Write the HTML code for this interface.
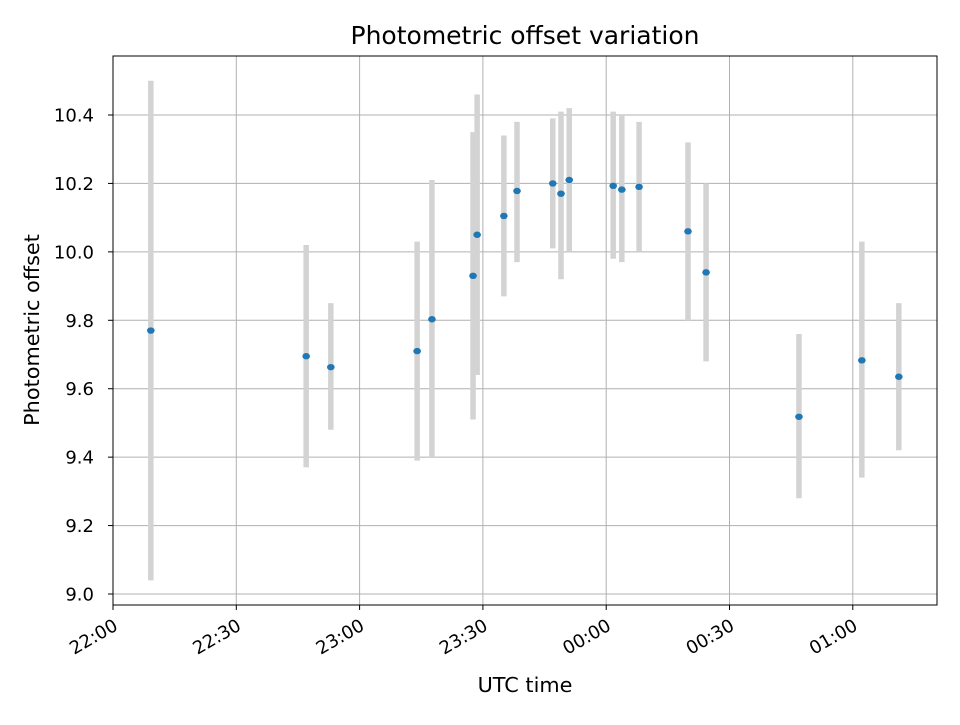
<!DOCTYPE html>
<html><head><meta charset="utf-8"><style>
body{margin:0;background:#fff;font-family:"Liberation Sans","DejaVu Sans",sans-serif;}
svg text{font-family:"DejaVu Sans","Liberation Sans",sans-serif;fill:#000;}
</style></head><body>
<svg id="chart" width="960" height="720" xmlns="http://www.w3.org/2000/svg">
<rect width="960" height="720" fill="#fff"/>
<g id="grid"></g><g id="bars"></g><g id="pts"></g>
<rect x="113" y="56" width="824" height="549" fill="none" stroke="#000" stroke-width="1"/>
<g id="axes"></g>
<text x="525" y="44" font-size="25" text-anchor="middle">Photometric offset variation</text>
<text x="525" y="692" font-size="20.8" text-anchor="middle">UTC time</text>
<text transform="translate(39,330) rotate(-90)" font-size="20.8" text-anchor="middle">Photometric offset</text>
</svg>
<script>
// minutes since 22:00
const times=[9.2,47,53,74,77.6,87.6,88.6,95.1,98.3,107,109,111,121.7,123.8,128,139.9,144.3,166.9,182.2,191.2];
const values=[9.77,9.695,9.663,9.71,9.803,9.93,10.05,10.105,10.178,10.2,10.17,10.21,10.193,10.182,10.19,10.06,9.94,9.518,9.683,9.635];
const lows=[9.04,9.37,9.48,9.39,9.40,9.51,9.64,9.87,9.97,10.01,9.92,10.00,9.98,9.97,10.00,9.80,9.68,9.28,9.34,9.42];
const highs=[10.50,10.02,9.85,10.03,10.21,10.35,10.46,10.34,10.38,10.39,10.41,10.42,10.41,10.40,10.38,10.32,10.20,9.76,10.03,9.85];
const xTicks=[0,30,60,90,120,150,180];
const xTickLabels=["22:00","22:30","23:00","23:30","00:00","00:30","01:00"];
const yTicks=[9.0,9.2,9.4,9.6,9.8,10.0,10.2,10.4];
const yTickLabels=["9.0","9.2","9.4","9.6","9.8","10.0","10.2","10.4"];

const NS="http://www.w3.org/2000/svg";
function xs(m){return 113+m*(123.3/30);}
function ys(v){return 594-(v-9.0)*(479/1.4);}
function mk(tag,attrs,parent){const e=document.createElementNS(NS,tag);for(const k in attrs)e.setAttribute(k,attrs[k]);document.getElementById(parent).appendChild(e);return e;}
xTicks.forEach((t,i)=>{
  const x=xs(t);
  const g=mk('line',{x1:x,x2:x,y1:56,y2:605,stroke:'#b0b0b0','stroke-width':1},'grid');
  
  
  const tk=mk('line',{x1:x,x2:x,y1:605,y2:610,stroke:'#000'},'axes');
  
  
  const tx=mk('text',{x:0,y:0,'font-size':18,'text-anchor':'end',transform:`translate(${x+6},${629}) rotate(-30)`},'axes');
  tx.textContent=xTickLabels[i];
  
  
});
yTicks.forEach((v,i)=>{
  const y=ys(v);
  const g=mk('line',{x1:113,x2:937,y1:y,y2:y,stroke:'#b0b0b0','stroke-width':1},'grid');
  
  
  const tk=mk('line',{x1:108,x2:113,y1:y,y2:y,stroke:'#000'},'axes');
  
  
  const tx=mk('text',{x:94,y:y+6.5,'font-size':18,'text-anchor':'end'},'axes');
  tx.textContent=yTickLabels[i];
  
  
});
times.forEach((t,i)=>{
  const x=xs(t);
  const b=mk('line',{x1:x,x2:x,y1:ys(lows[i]),y2:ys(highs[i]),stroke:'#d3d3d3','stroke-width':5.5},'bars');
  
  
  const p=mk('ellipse',{cx:x,cy:ys(values[i]),rx:3.8,ry:3.2,fill:'#1f77b4'},'pts');
  
  
});
</script>
</body></html>
